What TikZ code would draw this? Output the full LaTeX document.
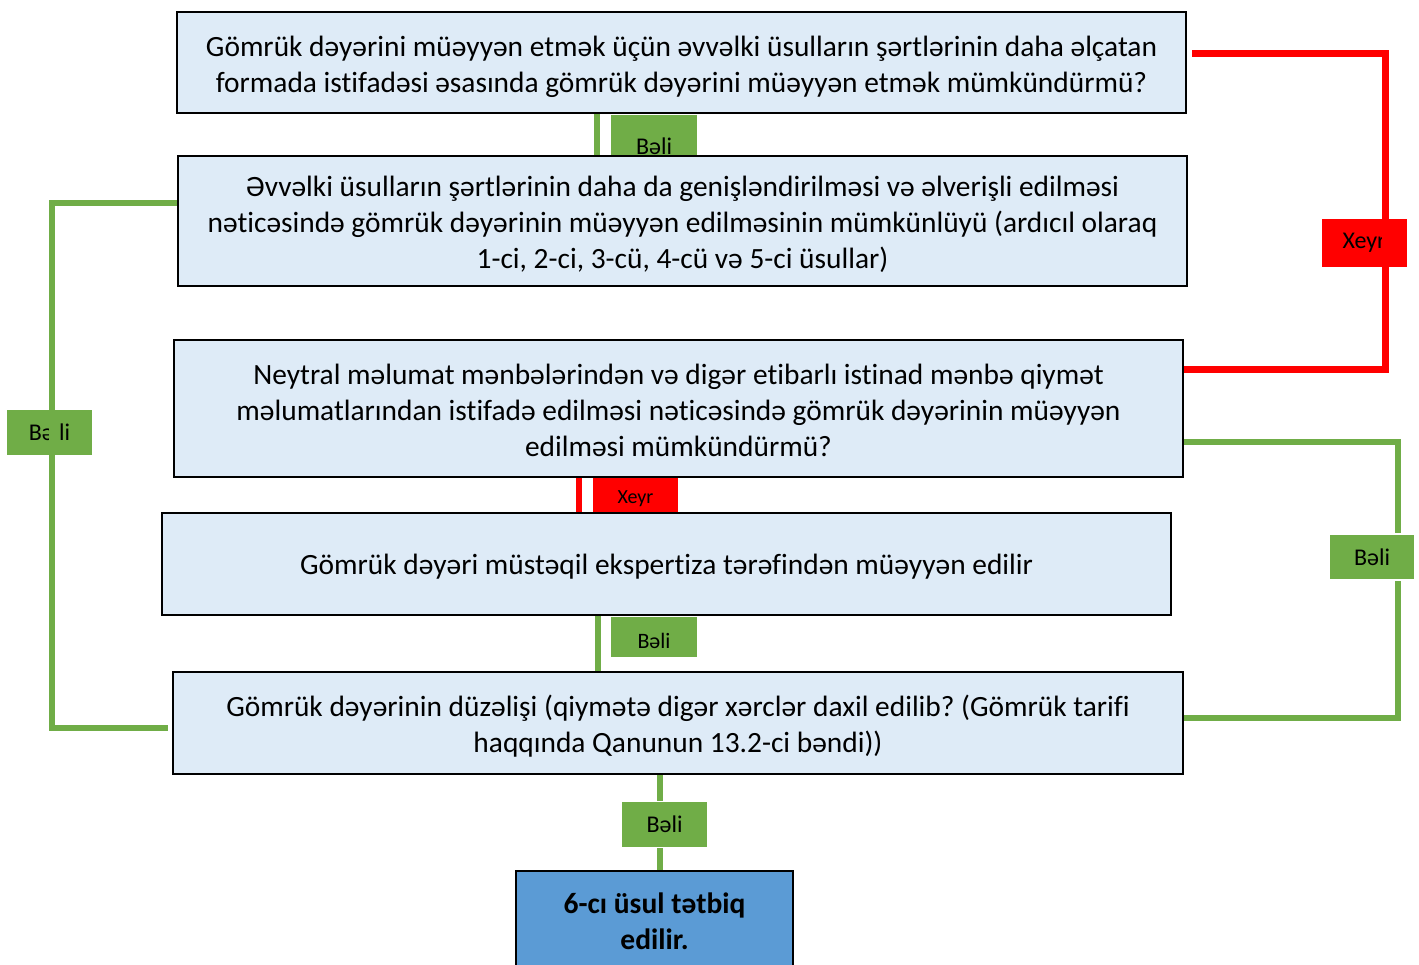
\documentclass[tikz,border=0pt]{standalone}
\usepackage{fontspec}
\setmainfont{Carlito}[Ligatures=NoCommon]
\frenchspacing
\definecolor{boxfill}{HTML}{DEEBF7}
\definecolor{endfill}{HTML}{5B9BD5}
\definecolor{yesgreen}{HTML}{70AD47}
\definecolor{nored}{HTML}{FF0000}
\begin{document}
\begin{tikzpicture}[x=1pt,y=-1pt,
  stepbox/.style={draw=black, line width=1.8pt, fill=boxfill, inner sep=0pt},
  endbox/.style={draw=black, line width=1.8pt, fill=endfill, inner sep=0pt},
  steptext/.style={align=center, inner sep=0pt, font=\fontsize{29.4}{36}\selectfont},
  endtext/.style={align=center, inner sep=0pt, font=\fontsize{29.5}{36}\selectfont\bfseries},
  yeslbl/.style={fill=yesgreen, inner sep=0pt, minimum width=86pt, minimum height=46pt,
    font=\fontsize{24}{28}\selectfont},
  nolbl/.style={fill=nored, inner sep=0pt, minimum width=86pt, minimum height=46pt,
    font=\fontsize{24}{28}\selectfont},
  yesline/.style={draw=yesgreen, line width=6pt},
  noline/.style={draw=nored, line width=7pt}]
\useasboundingbox (0,0) rectangle (1419,964);

% corner points of the routed connectors
\coordinate (rc1) at (1385,53);
\coordinate (rc2) at (1385,369);
\coordinate (lc1) at (52,203);
\coordinate (lc2) at (52,728);
\coordinate (gc1) at (1398,442);
\coordinate (gc2) at (1398,718);

% box centres and outlines (outlines are filled at the end)
\path
  (681.5,62.5) coordinate (p1)
  (682.5,221)  coordinate (p2)
  (678.5,408.5) coordinate (p3)
  (666.5,564)  coordinate (p4)
  (678,723)    coordinate (p5)
  (654.5,921)  coordinate (p6);
\path
  (p1) node[minimum width=1009pt, minimum height=101pt, inner sep=0pt] (b1) {}
  (p2) node[minimum width=1009pt, minimum height=130pt, inner sep=0pt] (b2) {}
  (p3) node[minimum width=1009pt, minimum height=137pt, inner sep=0pt] (b3) {}
  (p4) node[minimum width=1009pt, minimum height=102pt, inner sep=0pt] (b4) {}
  (p5) node[minimum width=1010pt, minimum height=102pt, inner sep=0pt] (b5) {}
  (p6) node[minimum width=277pt, minimum height=100pt, inner sep=0pt] (b6) {};

% connectors lying under their labels
\draw[yesline] (597,113) -- (597,156);
\draw[noline, line width=6pt] (579,467) -- (579,513);
\draw[yesline] (598,605) -- (598,672);
\draw[yesline] (b3.east |- gc1) -- (gc1) -- (gc2) -- (b5.east |- gc2);
\draw[yesline] (b5.south -| 660,0) -- (b6.north -| 660,0);

% labels
\node[yeslbl, minimum height=62pt] (l1) at (654,146) {Bəli};
\node[nolbl, font=\fontsize{20}{24}\selectfont, minimum width=85pt, minimum height=44pt] (l2) at (635.5,499) {Xeyr};
\node[yeslbl, minimum height=40pt] (l3) at (654,637) {};
\node (l3text) at (654,641) {\fontsize{22}{26}\selectfont Bəli};
\node[yeslbl, draw=white, line width=1.5pt] (l4) at (1372,557) {Bəli};
\node[yeslbl, draw=white, line width=1.5pt] (l5) at (664.5,824.5) {Bəli};
\node[yeslbl, minimum width=85pt, minimum height=45pt] (l6) at (49.5,432) {Bə li};
\node[nolbl, minimum width=85pt, minimum height=48pt] (l7) at (1364,243) {Xeyr};

% connectors lying over their labels
\draw[yesline] (b2.west |- lc1) -- (lc1) -- (lc2) -- ([xshift=-5pt]b5.west |- lc2);
\draw[noline] ([xshift=6pt]b1.east |- rc1) -- (rc1) -- (rc2) -- (b3.east |- rc2);

% boxes
\node[stepbox, minimum width=1009pt, minimum height=101pt] at (p1) {};
\node[stepbox, minimum width=1009pt, minimum height=130pt] at (p2) {};
\node[stepbox, minimum width=1009pt, minimum height=137pt] at (p3) {};
\node[stepbox, minimum width=1009pt, minimum height=102pt] at (p4) {};
\node[stepbox, minimum width=1010pt, minimum height=102pt] at (p5) {};
\node[endbox, minimum width=277pt, minimum height=100pt] at (p6) {};

% box texts
\node[steptext] (t1) at ([yshift=-4pt]b1.center)
  {Gömrük dəyərini müəyyən etmək üçün əvvəlki üsulların şərtlərinin daha əlçatan\\
   formada istifadəsi əsasında gömrük dəyərini müəyyən etmək mümkündürmü?};
\node[steptext] (t2) at ([yshift=-3pt]b2.center)
  {Əvvəlki üsulların şərtlərinin daha da genişləndirilməsi və əlverişli edilməsi\\
   nəticəsində gömrük dəyərinin müəyyən edilməsinin mümkünlüyü (ardıcıl olaraq\\
   1-ci, 2-ci, 3-cü, 4-cü və 5-ci üsullar)};
\node[steptext] (t3) at ([yshift=-2pt]b3.center)
  {Neytral məlumat mənbələrindən və digər etibarlı istinad mənbə qiymət\\
   məlumatlarından istifadə edilməsi nəticəsində gömrük dəyərinin müəyyən\\
   edilməsi mümkündürmü?};
\node[steptext] (t4) at ([yshift=-3pt]b4.center)
  {Gömrük dəyəri müstəqil ekspertiza tərəfindən müəyyən edilir};
\node[steptext] (t5) at ([yshift=-3.5pt]b5.center)
  {Gömrük dəyərinin düzəlişi (qiymətə digər xərclər daxil edilib? (Gömrük tarifi\\
   haqqında Qanunun 13.2-ci bəndi))};
\node[endtext] (t6) at (b6.center)
  {6-cı üsul tətbiq\\edilir.};
\end{tikzpicture}
\end{document}
